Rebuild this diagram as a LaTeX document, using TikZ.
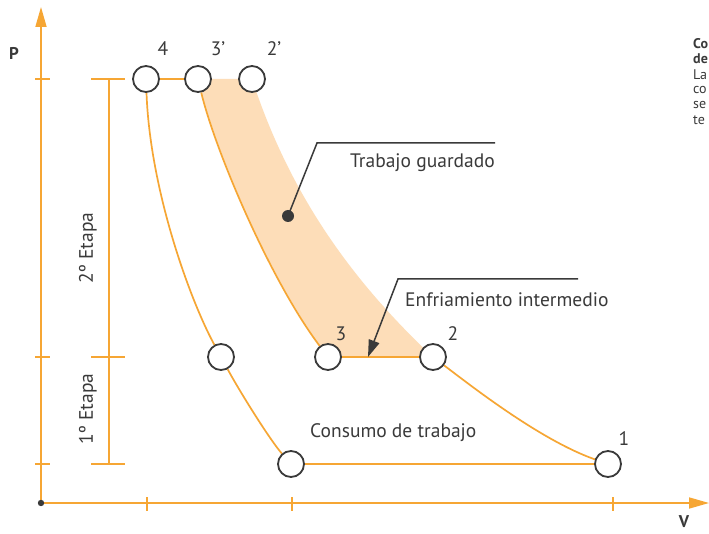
\documentclass[tikz,border=0pt]{standalone}
\usepackage{fontspec}
\setmainfont{PT Sans}
\usetikzlibrary{arrows.meta,positioning,calc,backgrounds}

\definecolor{curveorange}{RGB}{246,166,52}
\definecolor{workfill}{RGB}{253,221,184}
\definecolor{inkgray}{RGB}{58,58,58}

\begin{document}
\begin{tikzpicture}[x=1pt,y=-1pt,
      state/.style={draw=inkgray, circle, fill=white, line width=1.8pt, minimum size=26pt, inner sep=0pt},
      curve/.style={draw=curveorange, line width=1.7pt},
      axis/.style={curveorange, line width=1.7pt},
      callout/.style={draw=inkgray, line width=1.5pt},
      label/.style={font=\fontsize{19.5}{22}\selectfont, text=inkgray, inner sep=0pt},
      axlabel/.style={font=\fontsize{17}{19}\selectfont\bfseries, text=inkgray, inner sep=0pt},
      side/.style={font=\fontsize{14}{15}\selectfont, text=inkgray, inner sep=0pt, anchor=west}
    ]
      \useasboundingbox (0,0) rectangle (709,534);

      % States
      \node[state] (s4)   at (146,79)  {};
      \node[state] (s3p)  at (198,79)  {};
      \node[state] (s2p)  at (252,79)  {};
      \node[state] (smid) at (221,357) {};
      \node[state] (s3)   at (328,357) {};
      \node[state] (s2)   at (433,357) {};
      \node[state] (sbot) at (291,464) {};
      \node[state] (s1)   at (608,464) {};

      \begin{pgfonlayer}{background}
        \fill[white] (0,0) rectangle (709,534);
        % Stored work area
        \fill[workfill] (s3p.center) -- (s2p.center)
          .. controls (285,180) and (340,270) .. (s2.center) -- (s3.center)
          .. controls (270,280) and (215,150) .. (s3p.center) -- cycle;
        % Cycle curves
        \draw[curve] (s4) -- (s3p);
        \draw[curve] (s4) .. controls (150,190) and (190,300) .. (smid);
        \draw[curve] (smid) .. controls (240,392) and (270,440) .. (sbot);
        \draw[curve] (s3p) .. controls (215,150) and (270,280) .. (s3);
        \draw[curve] (s3) -- (s2);
        \draw[curve] (s2) .. controls (470,385) and (540,440) .. (s1);
        \draw[curve] (sbot) -- (s1);
      \end{pgfonlayer}

      % Axes
      \coordinate (orig) at (41,503);
      \coordinate (ptop) at (41,7);
      \coordinate (vend) at (709,503);
      \draw[axis, -{Triangle[length=20pt,width=11pt]}] (orig) -- (ptop);
      \draw[axis, -{Triangle[length=20pt,width=11pt]}] (orig) -- (vend);
      \fill[inkgray] (orig) circle (3.2pt);
      \foreach \y in {79,357,464}
        \draw[axis] (35,\y) -- (50,\y);
      \foreach \x in {147,292,613}
        \draw[axis] (\x,497) -- (\x,511);
      \node[axlabel] (plabel) at (14,53) {P};
      \node[axlabel] (vlabel) at (684,522) {V};

      % Stages
      \draw[axis] (109,79) -- (109,464);
      \foreach \y in {79,357,464}
        \draw[axis] (91,\y) -- (125,\y);
      \node[label, rotate=90] (stage2) at (88,248) {2º Etapa};
      \node[label, rotate=90] (stage1) at (88,409) {1º Etapa};

      % State labels
      \node[label] (l4)  at (163,49)  {4};
      \node[label] (l3p) at (218,49)  {3’};
      \node[label] (l2p) at (274,49)  {2’};
      \node[label] (l3)  at (341,334) {3};
      \node[label] (l2)  at (453,334) {2};
      \node[label] (l1)  at (624,439) {1};

      % Callouts
      \coordinate (dot) at (288,216);
      \coordinate (tgbend) at (317,143);
      \coordinate (tgend) at (495,143);
      \fill[inkgray] (dot) circle (6pt);
      \draw[callout] (dot) -- (tgbend) -- (tgend);
      \node[label, anchor=base west] (stored) at (350,168) {Trabajo guardado};

      \coordinate (tip) at (368,357);
      \coordinate (eibend) at (398,279);
      \coordinate (eiend) at (578,279);
      \draw[callout, -{Triangle[length=17pt,width=11pt]}] (eiend) -- (eibend) -- (tip);
      \node[label, anchor=west] (cooling) at (405,300) {Enfriamiento intermedio};

      \node[label, anchor=west] (consumed) at (310,433) {Consumo de trabajo};

      % Side text (cut at the edge)
      \node[side, font=\fontsize{14}{15}\selectfont\bfseries] (side1) at (693,44) {Co};
      \node[side, font=\fontsize{14}{15}\selectfont\bfseries] (side2) at (693,59) {de};
      \node[side] (side3) at (693,75)  {La};
      \node[side] (side4) at (693,90)  {co};
      \node[side] (side5) at (693,105) {se};
      \node[side] (side6) at (693,120) {te};
    \end{tikzpicture}
\end{document}
